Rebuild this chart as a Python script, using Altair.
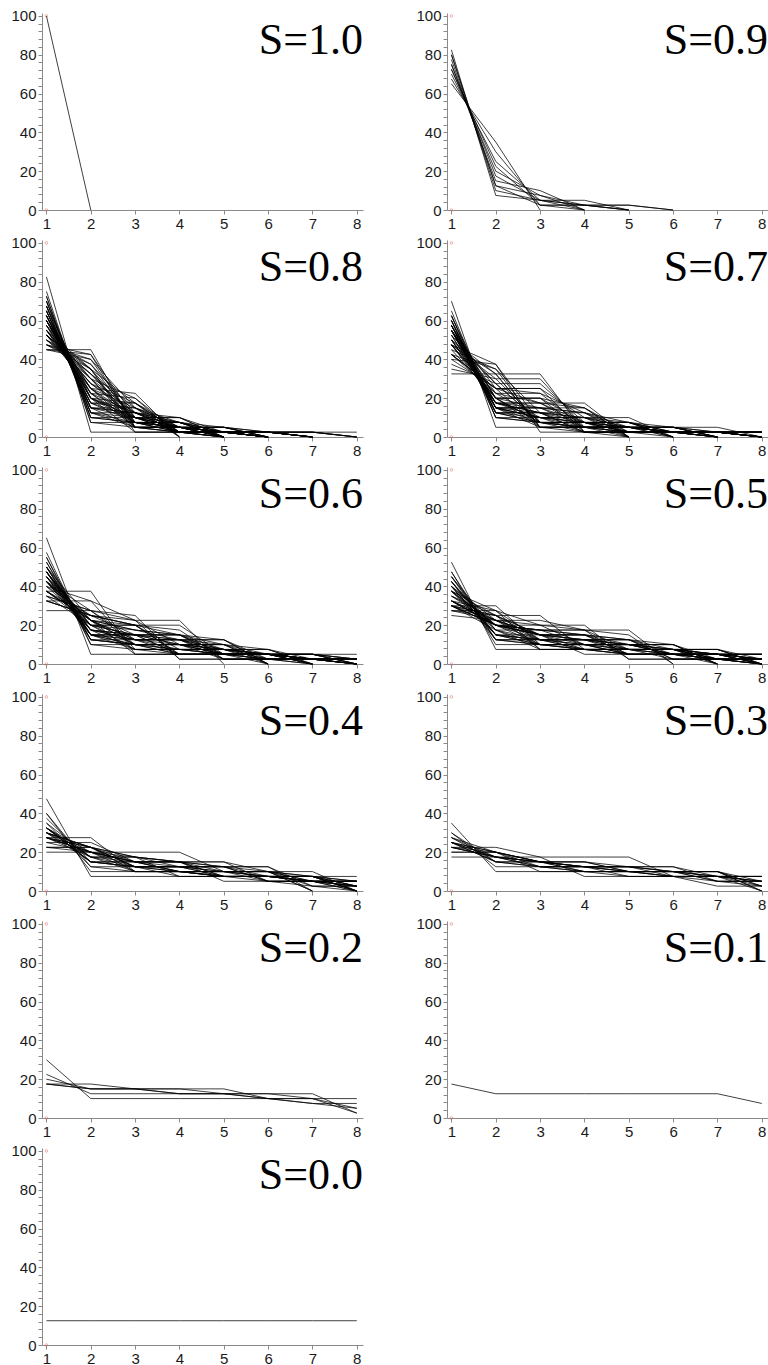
import altair as alt
import pandas as pd

# x positions (rank 1..8) and panel labels
X_POS = [1, 2, 3, 4, 5, 6, 7, 8]
UNIT = 2.5  # each value below is a count of 2.5 % steps (40 steps = 100 %)
LABELS = ["S=1.0", "S=0.9", "S=0.8", "S=0.7", "S=0.6", "S=0.5",
          "S=0.4", "S=0.3", "S=0.2", "S=0.1", "S=0.0"]

S10 = [[40, 0]]

S09 = [
    [33, 3, 2, 1, 1, 0], [32, 5, 1, 1, 1, 0], [32, 4, 2, 2, 0], [31, 5, 3, 1, 0],
    [30, 7, 2, 1, 0], [29, 9, 1, 1, 0], [30, 6, 4, 0], [29, 8, 3, 0],
    [28, 10, 2, 0], [27, 12, 1, 0], [26, 14, 0],
]

S08 = [
    [33, 1, 1, 1, 1, 1, 1, 1], [30, 3, 2, 2, 1, 1, 1, 0], [29, 4, 3, 1, 1, 1, 1, 0],
    [28, 6, 2, 1, 1, 1, 1, 0], [27, 8, 1, 1, 1, 1, 1, 0], [29, 3, 3, 2, 2, 1, 0],
    [28, 5, 2, 2, 2, 1, 0], [28, 4, 3, 3, 1, 1, 0], [27, 5, 4, 2, 1, 1, 0],
    [26, 7, 3, 2, 1, 1, 0], [25, 9, 2, 2, 1, 1, 0], [26, 6, 5, 1, 1, 1, 0],
    [25, 8, 4, 1, 1, 1, 0], [24, 10, 3, 1, 1, 1, 0], [23, 12, 2, 1, 1, 1, 0],
    [22, 14, 1, 1, 1, 1, 0], [27, 5, 3, 3, 2, 0], [26, 6, 4, 2, 2, 0],
    [25, 8, 3, 2, 2, 0], [24, 10, 2, 2, 2, 0], [27, 4, 4, 4, 1, 0],
    [26, 5, 5, 3, 1, 0], [25, 7, 4, 3, 1, 0], [24, 9, 3, 3, 1, 0],
    [25, 6, 6, 2, 1, 0], [24, 8, 5, 2, 1, 0], [23, 10, 4, 2, 1, 0],
    [22, 12, 3, 2, 1, 0], [21, 14, 2, 2, 1, 0], [24, 7, 7, 1, 1, 0],
    [22, 11, 5, 1, 1, 0], [20, 15, 3, 1, 1, 0], [19, 17, 2, 1, 1, 0],
    [21, 13, 4, 1, 1, 0], [25, 6, 5, 4, 0], [24, 8, 4, 4, 0], [24, 7, 6, 3, 0],
    [23, 9, 5, 3, 0], [22, 11, 4, 3, 0], [21, 13, 3, 3, 0], [23, 8, 7, 2, 0],
    [22, 10, 6, 2, 0], [21, 12, 5, 2, 0], [20, 14, 4, 2, 0], [19, 16, 3, 2, 0],
    [18, 18, 2, 2, 0], [22, 9, 8, 1, 0], [21, 11, 7, 1, 0], [20, 13, 6, 1, 0],
    [19, 15, 5, 1, 0], [18, 17, 4, 1, 0], [21, 10, 9, 0], [20, 12, 8, 0],
    [19, 14, 7, 0], [18, 16, 6, 0],
]

S07 = [
    [25, 6, 2, 2, 2, 1, 1, 1], [26, 4, 3, 2, 2, 1, 1, 1], [25, 5, 3, 3, 1, 1, 1, 1],
    [24, 6, 4, 2, 1, 1, 1, 1], [23, 8, 3, 2, 1, 1, 1, 1], [22, 10, 2, 2, 1, 1, 1, 1],
    [23, 7, 5, 1, 1, 1, 1, 1], [22, 9, 4, 1, 1, 1, 1, 1], [21, 11, 3, 1, 1, 1, 1, 1],
    [20, 13, 2, 1, 1, 1, 1, 1], [19, 15, 1, 1, 1, 1, 1, 1], [28, 2, 2, 2, 2, 2, 2, 0],
    [24, 6, 3, 2, 2, 2, 1, 0], [23, 8, 2, 2, 2, 2, 1, 0], [25, 4, 3, 3, 3, 1, 1, 0],
    [23, 6, 4, 3, 2, 1, 1, 0], [22, 8, 3, 3, 2, 1, 1, 0], [22, 7, 5, 2, 2, 1, 1, 0],
    [20, 11, 3, 2, 2, 1, 1, 0], [19, 13, 2, 2, 2, 1, 1, 0], [23, 5, 5, 4, 1, 1, 1, 0],
    [22, 6, 6, 3, 1, 1, 1, 0], [19, 12, 3, 3, 1, 1, 1, 0], [20, 8, 8, 1, 1, 1, 1, 0],
    [17, 14, 5, 1, 1, 1, 1, 0], [24, 5, 3, 3, 3, 2, 0], [22, 7, 4, 3, 2, 2, 0],
    [22, 6, 6, 2, 2, 2, 0], [18, 14, 2, 2, 2, 2, 0], [23, 5, 4, 4, 3, 1, 0],
    [22, 6, 5, 3, 3, 1, 0], [21, 7, 5, 4, 2, 1, 0], [19, 9, 7, 2, 2, 1, 0],
    [21, 6, 6, 5, 1, 1, 0], [19, 8, 8, 3, 1, 1, 0], [17, 10, 10, 1, 1, 1, 0],
    [22, 6, 4, 4, 4, 0], [22, 5, 5, 5, 3, 0], [20, 7, 6, 5, 2, 0],
    [17, 10, 9, 2, 2, 0], [19, 8, 6, 6, 1, 0], [19, 7, 7, 7, 0], [18, 8, 8, 6, 0],
    [17, 9, 9, 5, 0], [16, 10, 10, 4, 0], [15, 11, 11, 3, 0], [14, 12, 12, 2, 0],
    [13, 13, 13, 1, 0], [17, 10, 7, 6, 0], [16, 15, 3, 3, 3, 0], [24, 4, 4, 4, 2, 2, 0],
    [20, 7, 7, 3, 3, 0],
]

S06 = [
    [26, 2, 2, 2, 2, 2, 2, 2], [22, 5, 4, 2, 2, 2, 2, 1], [23, 4, 3, 3, 2, 2, 2, 1],
    [20, 9, 2, 2, 2, 2, 2, 1], [21, 6, 3, 3, 3, 2, 1, 1], [21, 5, 4, 4, 2, 2, 1, 1],
    [19, 7, 6, 2, 2, 2, 1, 1], [15, 15, 2, 2, 2, 2, 1, 1], [20, 6, 4, 4, 3, 1, 1, 1],
    [19, 6, 6, 4, 2, 1, 1, 1], [17, 9, 5, 5, 1, 1, 1, 1], [14, 11, 10, 1, 1, 1, 1, 1],
    [20, 7, 3, 3, 3, 2, 2, 0], [19, 7, 5, 3, 2, 2, 2, 0], [18, 8, 6, 2, 2, 2, 2, 0],
    [19, 8, 3, 3, 3, 3, 1, 0], [19, 6, 5, 4, 3, 2, 1, 0], [18, 7, 5, 5, 2, 2, 1, 0],
    [17, 9, 4, 4, 4, 1, 1, 0], [18, 6, 6, 5, 3, 1, 1, 0], [15, 9, 7, 6, 1, 1, 1, 0],
    [20, 5, 4, 4, 4, 3, 0], [17, 9, 4, 4, 3, 3, 0], [19, 5, 5, 5, 4, 2, 0],
    [17, 7, 6, 5, 3, 2, 0], [18, 6, 5, 5, 5, 1, 0], [13, 10, 8, 7, 1, 1, 0],
    [17, 6, 6, 6, 5, 0], [15, 8, 7, 6, 4, 0], [13, 10, 9, 4, 4, 0], [13, 10, 8, 6, 3, 0],
    [11, 11, 9, 9, 0], [17, 8, 8, 2, 2, 1, 1, 1], [20, 6, 4, 4, 2, 2, 2, 0],
    [15, 10, 8, 2, 2, 2, 1, 0], [15, 9, 8, 3, 3, 2, 0], [14, 11, 5, 5, 5, 0],
    [17, 7, 6, 6, 2, 1, 1, 0], [16, 10, 6, 4, 1, 1, 1, 1], [15, 9, 7, 5, 2, 2, 0],
    [19, 8, 4, 3, 2, 2, 1, 1], [18, 9, 5, 2, 2, 2, 1, 1], [17, 11, 4, 2, 2, 2, 1, 1],
    [16, 13, 3, 2, 2, 2, 1, 1], [13, 13, 9, 1, 1, 1, 1, 1], [14, 8, 8, 8, 2, 0],
    [16, 8, 6, 6, 2, 2, 0], [22, 4, 4, 3, 3, 2, 1, 1],
]

S05 = [
    [18, 7, 3, 3, 3, 2, 2, 2], [18, 6, 4, 4, 2, 2, 2, 2], [16, 8, 6, 2, 2, 2, 2, 2],
    [21, 3, 3, 3, 3, 3, 3, 1], [14, 10, 5, 3, 3, 2, 2, 1], [19, 4, 4, 4, 3, 3, 2, 1],
    [17, 7, 4, 3, 3, 3, 2, 1], [17, 6, 4, 4, 4, 3, 1, 1], [16, 6, 5, 5, 4, 2, 1, 1],
    [15, 7, 5, 5, 5, 1, 1, 1], [12, 8, 8, 8, 1, 1, 1, 1], [18, 5, 4, 4, 3, 3, 3, 0],
    [17, 5, 5, 4, 4, 3, 2, 0], [16, 6, 5, 5, 3, 3, 2, 0], [14, 8, 6, 4, 4, 2, 2, 0],
    [15, 8, 4, 4, 4, 4, 1, 0], [15, 6, 6, 5, 4, 3, 1, 0], [12, 9, 6, 6, 5, 1, 1, 0],
    [16, 5, 5, 5, 5, 4, 0], [13, 8, 6, 5, 5, 3, 0], [12, 8, 7, 7, 3, 3, 0],
    [12, 8, 7, 6, 5, 2, 0], [12, 7, 7, 7, 7, 0], [10, 9, 8, 7, 6, 0],
    [15, 8, 5, 5, 2, 2, 2, 1], [14, 9, 6, 3, 3, 3, 1, 1], [17, 6, 5, 3, 3, 3, 3, 0],
    [13, 8, 7, 6, 2, 2, 2, 0], [13, 9, 5, 5, 4, 4, 0], [13, 8, 6, 6, 4, 2, 1, 0],
    [12, 10, 6, 6, 3, 1, 1, 1], [15, 10, 3, 3, 3, 3, 3, 0], [13, 9, 6, 6, 2, 2, 1, 1],
    [13, 8, 7, 4, 4, 4, 0], [12, 10, 6, 5, 3, 3, 1, 0], [12, 12, 4, 4, 4, 2, 2, 0],
    [15, 11, 3, 3, 2, 2, 2, 2], [16, 9, 4, 3, 2, 2, 2, 2], [19, 5, 4, 3, 3, 2, 2, 2],
    [13, 11, 5, 4, 2, 2, 2, 1], [11, 11, 8, 4, 2, 2, 1, 1], [11, 10, 10, 3, 2, 2, 1, 1],
    [11, 9, 9, 7, 1, 1, 1, 1],
]

S04 = [
    [19, 3, 3, 3, 3, 3, 3, 3], [15, 6, 5, 3, 3, 3, 3, 2], [16, 5, 4, 4, 3, 3, 3, 2],
    [14, 7, 4, 4, 4, 3, 2, 2], [12, 9, 5, 4, 3, 3, 2, 2], [12, 8, 6, 4, 4, 2, 2, 2],
    [13, 7, 5, 5, 3, 3, 3, 1], [12, 9, 4, 4, 4, 4, 2, 1], [11, 9, 5, 5, 4, 3, 2, 1],
    [13, 8, 4, 4, 4, 3, 3, 1], [13, 6, 5, 5, 5, 4, 1, 1], [16, 4, 4, 4, 4, 4, 4, 0],
    [14, 5, 5, 5, 4, 4, 3, 0], [13, 6, 5, 5, 5, 3, 3, 0], [12, 6, 6, 6, 4, 4, 2, 0],
    [11, 8, 5, 5, 5, 5, 1, 0], [9, 9, 6, 6, 5, 5, 0], [10, 10, 6, 6, 2, 2, 2, 2],
    [12, 7, 7, 5, 3, 2, 2, 2], [11, 9, 7, 3, 3, 3, 3, 1], [11, 7, 7, 6, 3, 3, 3, 0],
    [10, 8, 6, 6, 6, 2, 2, 0], [9, 8, 7, 6, 6, 4, 0], [11, 8, 6, 5, 5, 2, 2, 1],
    [9, 9, 7, 6, 5, 2, 1, 1], [13, 6, 6, 4, 4, 4, 3, 0], [11, 8, 6, 6, 3, 3, 2, 1],
    [8, 8, 8, 8, 4, 4, 0], [11, 11, 4, 4, 3, 3, 2, 2], [12, 9, 5, 4, 3, 3, 2, 2],
    [13, 7, 6, 4, 3, 3, 2, 2],
]

S03 = [
    [11, 8, 4, 4, 4, 3, 3, 3], [12, 6, 5, 4, 4, 3, 3, 3], [11, 7, 5, 5, 3, 3, 3, 3],
    [14, 4, 4, 4, 4, 4, 4, 2], [10, 8, 5, 4, 4, 4, 3, 2], [9, 8, 6, 5, 4, 3, 3, 2],
    [10, 7, 5, 5, 5, 4, 2, 2], [11, 6, 5, 5, 4, 4, 4, 1], [10, 7, 6, 4, 4, 4, 4, 1],
    [9, 7, 6, 5, 5, 4, 4, 0], [8, 8, 6, 6, 4, 4, 4, 0], [10, 8, 6, 4, 3, 3, 3, 3],
    [9, 9, 7, 3, 3, 3, 3, 3], [12, 5, 5, 5, 4, 4, 3, 2], [10, 6, 6, 6, 4, 4, 2, 2],
    [10, 6, 6, 5, 5, 4, 3, 1], [8, 8, 6, 5, 5, 5, 3, 0], [9, 7, 6, 6, 5, 3, 2, 2],
    [9, 7, 6, 5, 5, 5, 2, 1], [7, 7, 7, 7, 7, 3, 1, 1],
]

S02 = [
    [12, 4, 4, 4, 4, 4, 4, 4], [9, 5, 5, 5, 5, 5, 5, 1], [8, 6, 6, 5, 5, 4, 3, 3],
    [7, 7, 6, 5, 5, 4, 4, 2], [7, 6, 6, 6, 6, 4, 3, 2], [7, 6, 6, 6, 5, 5, 4, 1],
]

S01 = [[7, 5, 5, 5, 5, 5, 5, 3]]

S00 = [[5, 5, 5, 5, 5, 5, 5, 5]]

PANELS = [S10, S09, S08, S07, S06, S05, S04, S03, S02, S01, S00]

# axis tick positions
X_TICKS = [1 + 0.25 * k for k in range(29)]
Y_TICKS = [4 * k for k in range(26)]
MARK_X = [1, 1]
MARK_Y = [100, 0]

W, H = 321, 197

xscale = alt.Scale(domain=[0.9, 8.14], nice=False, zero=False)
yscale = alt.Scale(domain=[0, 101.5], nice=False, zero=False)
xaxis = alt.Axis(values=X_TICKS, title=None, grid=False, format="d",
                 labelExpr="datum.value % 1 === 0 ? datum.label : ''",
                 labelOverlap=False, labelFlush=False, minExtent=19, maxExtent=19)
yaxis = alt.Axis(values=Y_TICKS, title=None, grid=False, format="d",
                 labelExpr="datum.value % 20 === 0 ? datum.label : ''",
                 labelOverlap=False, labelFlush=False, minExtent=42, maxExtent=42)


def lines_frame(lines):
    rows = []
    for k, units in enumerate(lines):
        for i, val in enumerate(units):
            rows.append({"line": k, "x": X_POS[i], "y": val * UNIT})
            if val == 0:
                break
    return pd.DataFrame(rows)


def panel(label, lines):
    xenc = alt.X("x:Q", scale=xscale, axis=xaxis)
    yenc = alt.Y("y:Q", scale=yscale, axis=yaxis)
    curves = alt.Chart(lines_frame(lines)).mark_line(
        color="#000000", strokeWidth=0.75
    ).encode(x=xenc, y=yenc, detail="line:N")
    marks = alt.Chart(pd.DataFrame({"x": MARK_X, "y": MARK_Y})).mark_point(
        shape="circle", size=7, filled=False, color="#e06060", strokeWidth=0.7
    ).encode(x=xenc, y=yenc)
    title = alt.Chart(pd.DataFrame({"label": [label]})).mark_text(
        font="Liberation Serif", fontSize=44, align="right", baseline="alphabetic",
        color="#000000"
    ).encode(x=alt.value(W), y=alt.value(41), text="label:N")
    return alt.layer(curves, marks, title).properties(width=W, height=H)


charts = [panel(lbl, ln) for lbl, ln in zip(LABELS, PANELS)]

chart = alt.concat(
    *charts, columns=2, spacing={"row": 30, "column": 84}, bounds="flush"
).properties(
    padding={"left": 0, "top": 8, "right": 0, "bottom": 0}
).configure_view(
    stroke=None
).configure_axis(
    domainColor="#8a8a8a", tickColor="#8a8a8a", tickSize=4, domainWidth=1,
    labelFont="Liberation Sans", labelFontSize=15, labelColor="#1a1a1a",
    labelPadding=2
)

chart.save("out.html", embed_options={"renderer": "svg", "actions": False})
